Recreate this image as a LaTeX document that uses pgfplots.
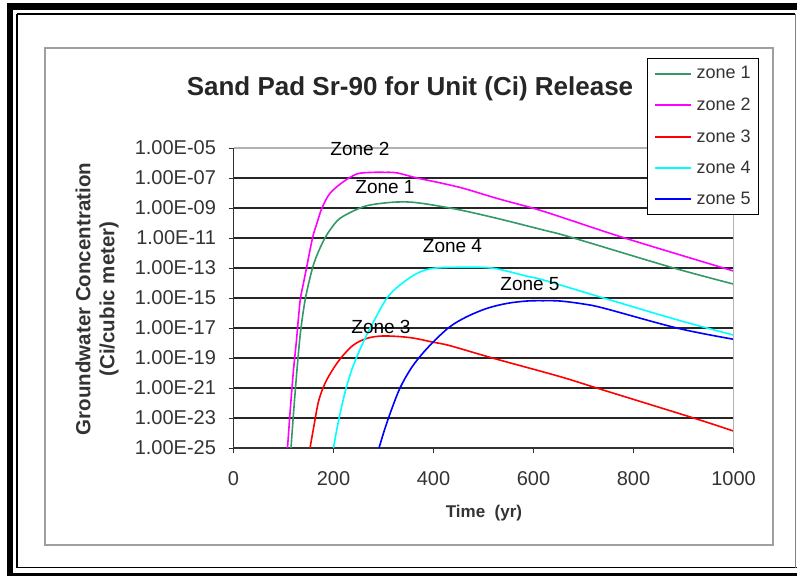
\documentclass[border=0pt]{standalone}
\usepackage{fontspec}
\setmainfont{Liberation Sans}
\usepackage{pgfplots}
\pgfplotsset{compat=1.18}
\definecolor{zgreen}{RGB}{51,153,102}
\definecolor{zmag}{RGB}{255,0,255}
\definecolor{zred}{RGB}{255,0,0}
\definecolor{zcyan}{RGB}{0,255,255}
\definecolor{zblue}{RGB}{0,0,255}
\begin{document}
\begin{tikzpicture}
\begin{scope}[x=1pt,y=1pt]
\useasboundingbox (0,0) rectangle (799,576);
% outer frame
\fill[black] (7,573) rectangle (797,566);
\fill[black] (7,573) rectangle (13,0);
\fill[black] (7,3) rectangle (797,0);
\draw[black, line width=1.2] (17,562) -- (17,8.3) -- (797,8.3);
\draw[black, line width=1.2] (17,562) -- (795,562);
\draw[gray, line width=1] (795,562) -- (795,8.3);
% chart frame
\draw[gray!75, line width=2] (44.5,528) rectangle (773,31.5);
% titles
\node[font=\bfseries\fontsize{26}{30}\selectfont, text=black!85, anchor=base] at (410,480) {Sand Pad Sr-90 for Unit (Ci) Release};
\node[rotate=90, align=center, font=\bfseries\fontsize{20.5}{24}\selectfont, text=black!80] at (97,277) {Groundwater Concentration\\(Ci/cubic meter)};
\node[font=\bfseries\fontsize{17}{20}\selectfont, text=black!80] at (484,63) {Time\ \ (yr)};
\end{scope}
\begin{axis}[
  at={(233.5pt,128pt)}, anchor=south west,
  scale only axis, width=500pt, height=300pt,
  xmin=0, xmax=1000, ymode=log, ymin=1e-25, ymax=1e-5,
  clip=false,
  xtick={0,200,400,600,800,1000},
  xticklabels={0,200,400,600,800,1000},
  ytick={1e-25,1e-23,1e-21,1e-19,1e-17,1e-15,1e-13,1e-11,1e-9,1e-7,1e-5},
  yticklabels={1.00E-25,1.00E-23,1.00E-21,1.00E-19,1.00E-17,1.00E-15,1.00E-13,1.00E-11,1.00E-09,1.00E-07,1.00E-05},
  yminorticks=false, xminorticks=false,
  ymajorgrids, major grid style={black!85, line width=1.3pt},
  axis x line*=bottom, axis y line*=left,
  axis line style={black!80, line width=1.3pt},
  tick style={black!80, line width=1pt},
  tick align=outside, major tick length=5pt,
  ticklabel style={font=\fontsize{20}{24}\selectfont, text=black!80},
  xticklabel style={yshift=-15pt},
  yticklabel style={xshift=-9pt},
  legend style={at={(0.827,1.3)}, anchor=north west, draw, fill=white, line width=1.2pt,
    font=\fontsize{18}{20}\selectfont, text=black!80, inner xsep=6pt, inner ysep=6pt,
    row sep=13.5pt, nodes={inner sep=2pt}},
  legend cell align=left,
  legend image code/.code={\draw[#1] plot coordinates {(0pt,0pt) (18pt,0pt) (36pt,0pt)}; \path (39pt,0pt);},
  legend image post style={line width=2pt, sharp plot},
  every axis plot/.append style={line width=1.6pt, smooth, tension=0.55},
]
\addplot[zgreen] coordinates {
(115,1e-25) (121,5.62e-23) (129,1e-19) (135,1e-17) (144,1e-15) (158,1e-13)
(170,1.26e-12) (183,1e-11) (193,3.39e-11) (213,2.04e-10) (253,1e-9)
(280,1.74e-9) (327,2.51e-9) (370,2.19e-9) (447,8.13e-10) (527,2.04e-10)
(620,3.39e-11) (675,1.12e-11) (876,1.1e-13) (1000,8.51e-15)};
\addlegendentry{zone 1}
\addplot[zmag] coordinates {
(108,1e-25) (114,5.62e-23) (120,1.58e-20) (126,1.58e-18) (130,5.0e-17)
(134,1e-15) (140,1e-14) (146,1e-13) (158,1e-11) (167,1e-10) (177,1e-9)
(193,9.55e-9) (220,5.75e-8) (247,1.86e-7) (273,2.34e-7) (300,2.4e-7)
(327,2.19e-7) (367,1e-7) (410,5.01e-8) (460,2.04e-8) (527,4.37e-9)
(607,8.13e-10) (673,1.58e-10) (789,8.51e-12) (1000,6.31e-14)};
\addlegendentry{zone 2}
\addplot[zred] coordinates {
(153,1e-25) (160,2.04e-24) (170,1.26e-22) (183,2.04e-21) (200,2.04e-20)
(217,1.23e-19) (240,7.41e-19) (267,2.04e-18) (300,2.95e-18) (353,2.29e-18)
(400,1.12e-18) (433,6.61e-19) (520,9.55e-20) (653,5.75e-21) (735,8.13e-22)
(922,9.55e-24) (1000,1.35e-24)};
\addlegendentry{zone 3}
\addplot[zcyan] coordinates {
(200,1e-25) (207,2.04e-24) (217,7.41e-23) (227,1.58e-21) (240,3.39e-20)
(260,1.23e-18) (280,2.63e-17) (307,1e-15) (333,7.41e-15) (367,4.37e-14)
(400,9.55e-14) (460,1.12e-13) (520,9.55e-14) (587,2.82e-14) (620,1.58e-14)
(742,9.55e-16) (889,3.39e-17) (1000,3.39e-18)};
\addlegendentry{zone 4}
\addplot[zblue] coordinates {
(291,1e-25) (303,2.04e-24) (317,4.47e-23) (333,1e-21) (353,1.58e-20)
(373,1.26e-19) (400,1.23e-18) (433,1.23e-17) (467,5.75e-17) (507,2.04e-16)
(547,4.37e-16) (587,6.31e-16) (620,6.61e-16) (653,6.31e-16) (700,3.98e-16)
(742,2.04e-16) (889,9.55e-18) (1000,1.78e-18)};
\addlegendentry{zone 5}
\draw[gray!60, line width=1.3pt] (rel axis cs:0,1) -- (rel axis cs:1,1) -- (rel axis cs:1,0);
\node[font=\fontsize{19}{22}\selectfont] at (axis cs:253,8.5e-6) {Zone 2};
\node[font=\fontsize{19}{22}\selectfont] at (axis cs:303,2.34e-8) {Zone 1};
\node[font=\fontsize{19}{22}\selectfont] at (axis cs:438,3.1e-12) {Zone 4};
\node[font=\fontsize{19}{22}\selectfont] at (axis cs:593,8.5e-15) {Zone 5};
\node[font=\fontsize{19}{22}\selectfont] at (axis cs:295,1.26e-17) {Zone 3};
\end{axis}
\end{tikzpicture}
\end{document}
